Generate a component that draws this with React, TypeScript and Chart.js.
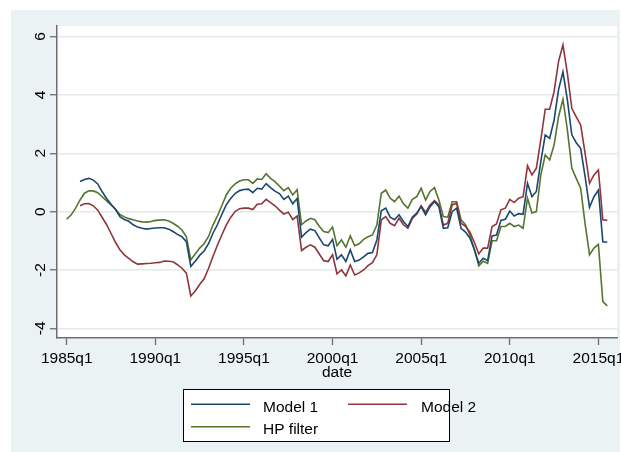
import React, { useEffect, useRef } from "react";
import { Chart, registerables } from "chart.js";

Chart.register(...registerables);

// ---- data ----
const firstQuarter = "1985q1";
const xTickLabels = ["1985q1", "1990q1", "1995q1", "2000q1", "2005q1", "2010q1", "2015q1"];
const yTickValues = [-4, -2, 0, 2, 4, 6];
const xAxisTitle = "date";
const seriesNames = ["Model 1", "Model 2", "HP filter"];
const seriesColors = ["#1a476f", "#90353b", "#55752f"];

// Model series start in 1985q4
const modelStart = "1985q4";

const model1 = [
  1.03, 1.10, 1.14, 1.08, 0.95, 0.68, 0.45, 0.25, 0.08, -0.17,
  -0.27, -0.33, -0.45, -0.53, -0.57, -0.60, -0.58, -0.56, -0.55, -0.55,
  -0.60, -0.68, -0.78, -0.86, -1.03, -1.88, -1.70, -1.50, -1.35, -1.10,
  -0.74, -0.45, -0.10, 0.23, 0.45, 0.62, 0.72, 0.76, 0.77, 0.65,
  0.80, 0.77, 0.96, 0.82, 0.70, 0.62, 0.42, 0.53, 0.27, 0.45,
  -0.88, -0.72, -0.60, -0.65, -0.90, -1.14, -1.17, -0.95, -1.63, -1.48,
  -1.71, -1.31, -1.71, -1.66, -1.55, -1.43, -1.40, -0.97, 0.03, 0.12,
  -0.19, -0.28, -0.11, -0.34, -0.51, -0.19, -0.05, 0.17, -0.11, 0.17,
  0.34, 0.17, -0.57, -0.55, 0.00, 0.12, -0.57, -0.70, -0.90, -1.30,
  -1.77, -1.60, -1.68, -0.83, -0.80, -0.30, -0.26, 0.02, -0.15, -0.07,
  -0.09, 0.97, 0.51, 0.69, 1.71, 2.63, 2.51, 3.14, 4.17, 4.79,
  3.83, 2.63, 2.36, 2.17, 1.20, 0.15, 0.51, 0.74, -1.03, -1.05,
];

const model2 = [
  0.20, 0.27, 0.28, 0.20, 0.05, -0.20, -0.45, -0.75, -1.05, -1.31,
  -1.48, -1.60, -1.72, -1.80, -1.79, -1.78, -1.77, -1.75, -1.74, -1.69,
  -1.70, -1.72, -1.82, -1.94, -2.11, -2.89, -2.72, -2.50, -2.30, -1.95,
  -1.54, -1.15, -0.80, -0.46, -0.20, 0.00, 0.10, 0.12, 0.12, 0.07,
  0.25, 0.27, 0.42, 0.31, 0.20, 0.05, -0.08, -0.02, -0.27, -0.15,
  -1.33, -1.22, -1.14, -1.22, -1.45, -1.68, -1.71, -1.48, -2.13, -2.00,
  -2.20, -1.83, -2.17, -2.10, -2.00, -1.85, -1.75, -1.48, -0.28, -0.17,
  -0.40, -0.48, -0.23, -0.45, -0.57, -0.23, -0.08, 0.20, -0.03, 0.23,
  0.38, 0.23, -0.46, -0.40, 0.23, 0.29, -0.40, -0.50, -0.70, -1.05,
  -1.45, -1.25, -1.25, -0.51, -0.42, 0.06, 0.12, 0.42, 0.31, 0.46,
  0.51, 1.57, 1.26, 1.49, 2.46, 3.51, 3.51, 4.11, 5.14, 5.71,
  4.74, 3.54, 3.25, 2.97, 2.00, 0.97, 1.26, 1.43, -0.28, -0.30,
];

// HP filter starts in 1985q1
const hpFilter = [
  -0.26, -0.11, 0.12, 0.40, 0.63, 0.71, 0.71, 0.65, 0.51, 0.37,
  0.23, 0.08, -0.10, -0.18, -0.24, -0.28, -0.32, -0.35, -0.36, -0.34,
  -0.30, -0.29, -0.28, -0.32, -0.40, -0.50, -0.63, -0.86, -1.65, -1.45,
  -1.25, -1.10, -0.85, -0.46, -0.15, 0.20, 0.57, 0.80, 0.95, 1.05,
  1.09, 1.09, 0.97, 1.12, 1.10, 1.30, 1.14, 1.03, 0.88, 0.72,
  0.82, 0.57, 0.75, -0.45, -0.32, -0.23, -0.28, -0.50, -0.68, -0.72,
  -0.53, -1.17, -0.97, -1.22, -0.83, -1.17, -1.10, -0.95, -0.86, -0.80,
  -0.46, 0.63, 0.74, 0.46, 0.34, 0.53, 0.27, 0.12, 0.42, 0.51,
  0.80, 0.40, 0.69, 0.82, 0.40, -0.17, -0.19, 0.34, 0.34, -0.28,
  -0.45, -0.80, -1.30, -1.86, -1.70, -1.77, -1.00, -1.00, -0.51, -0.51,
  -0.40, -0.51, -0.46, -0.57, 0.46, -0.05, 0.00, 1.26, 1.94, 1.77,
  2.28, 3.25, 3.85, 2.80, 1.49, 1.14, 0.80, -0.42, -1.48, -1.25,
  -1.12, -3.08, -3.23,
];

// ---- helpers ----
function parseQ(label: string): number {
  const [y, q] = label.split("q").map(Number);
  return y * 4 + (q - 1);
}
const base = parseQ(firstQuarter);
const qIndex = (label: string) => parseQ(label) - base;
const toPoints = (vals: number[], start: string) =>
  vals.map((v, k) => ({ x: qIndex(start) + k, y: v }));

const FONT = "'Liberation Sans', Arial, Helvetica, sans-serif";
const FS = 15.5;

const decor = {
  id: "stataDecor",
  beforeDraw(chart: any) {
    const { ctx, chartArea: a, width, height } = chart;
    ctx.save();
    ctx.fillStyle = "#ffffff";
    ctx.fillRect(0, 0, width, height);
    ctx.fillStyle = "#eaf2f3";
    ctx.fillRect(11, 10, width - 12, height - 10);
    ctx.fillStyle = "#ffffff";
    ctx.fillRect(a.left, a.top, a.right - a.left, a.bottom - a.top);
    ctx.restore();
  },
  afterDraw(chart: any) {
    const { ctx, chartArea: a } = chart;
    const xs = chart.scales.x;
    const ys = chart.scales.y;
    ctx.save();
    ctx.fillStyle = "#000000";
    ctx.font = `${FS}px ${FONT}`;
    // y tick labels (rotated)
    for (const v of yTickValues) {
      const py = ys.getPixelForValue(v);
      ctx.save();
      ctx.translate(44.5, py);
      ctx.rotate(-Math.PI / 2);
      ctx.textAlign = "center";
      ctx.textBaseline = "alphabetic";
      ctx.fillText(String(v), 0, 0);
      ctx.restore();
    }
    // x tick labels
    ctx.textAlign = "center";
    ctx.textBaseline = "alphabetic";
    for (const lab of xTickLabels) {
      const px = xs.getPixelForValue(qIndex(lab));
      ctx.fillText(lab, px, 362.5);
    }
    // x axis title
    ctx.fillText(xAxisTitle, (a.left + a.right) / 2, 377);

    // legend
    const bx = 183.5, by = 389.5, bw = 266, bh = 52;
    ctx.fillStyle = "#ffffff";
    ctx.fillRect(bx, by, bw, bh);
    ctx.strokeStyle = "#000000";
    ctx.lineWidth = 1;
    ctx.strokeRect(bx, by, bw, bh);
    const entries = [
      { lx: 191, ly: 404.3, tx: 263, ty: 411.5 },
      { lx: 348, ly: 404.3, tx: 421, ty: 411.5 },
      { lx: 191, ly: 426.7, tx: 263, ty: 433.8 },
    ];
    entries.forEach((e, k) => {
      ctx.strokeStyle = seriesColors[k];
      ctx.lineWidth = 1.6;
      ctx.beginPath();
      ctx.moveTo(e.lx, e.ly);
      ctx.lineTo(e.lx + 59, e.ly);
      ctx.stroke();
      ctx.fillStyle = "#000000";
      ctx.textAlign = "left";
      ctx.fillText(seriesNames[k], e.tx, e.ty);
    });
    ctx.restore();
  },
};

export default function App() {
  const ref = useRef<HTMLCanvasElement | null>(null);
  useEffect(() => {
    document.body.style.margin = "0";
    const canvas = ref.current!;
    const chart = new Chart(canvas, {
      type: "line",
      data: {
        datasets: [
          { label: seriesNames[0], data: toPoints(model1, modelStart), borderColor: seriesColors[0] },
          { label: seriesNames[1], data: toPoints(model2, modelStart), borderColor: seriesColors[1] },
          { label: seriesNames[2], data: toPoints(hpFilter, firstQuarter), borderColor: seriesColors[2] },
        ].map((d) => ({ ...d, borderWidth: 1.6, pointRadius: 0, tension: 0, fill: false })),
      },
      options: {
        animation: false,
        responsive: false,
        devicePixelRatio: 1,
        layout: { padding: { left: 0, right: 4, top: 26, bottom: 0 } },
        plugins: { legend: { display: false }, tooltip: { enabled: false }, title: { display: false } },
        scales: {
          x: {
            type: "linear",
            min: -2.2,
            max: 124.2,
            afterBuildTicks: (s: any) => {
              s.ticks = xTickLabels.map((l) => ({ value: qIndex(l) }));
            },
            afterFit: (s: any) => {
              s.height = 114;
            },
            ticks: { display: false },
            grid: {
              display: true,
              drawOnChartArea: false,
              drawTicks: true,
              tickLength: 7,
              tickColor: "#6e6e6e",
              tickWidth: 1.3,
            },
            border: { display: true, color: "#6e6e6e", width: 1.5 },
          },
          y: {
            type: "linear",
            min: -4.33,
            max: 6.36,
            afterBuildTicks: (s: any) => {
              s.ticks = yTickValues.map((v) => ({ value: v }));
            },
            afterFit: (s: any) => {
              s.width = 57;
            },
            ticks: { display: false },
            grid: {
              display: true,
              drawOnChartArea: true,
              drawTicks: true,
              tickLength: 7,
              color: "#e2eaec",
              lineWidth: 1.5,
              tickColor: "#6e6e6e",
              tickWidth: 1.3,
            },
            border: { display: true, color: "#6e6e6e", width: 1.5 },
          },
        },
      },
      plugins: [decor],
    } as any);
    return () => chart.destroy();
  }, []);
  return (
    <div style={{ width: 621, height: 452 }}>
      <canvas ref={ref} width={621} height={452} style={{ display: "block", width: 621, height: 452 }} />
    </div>
  );
}
